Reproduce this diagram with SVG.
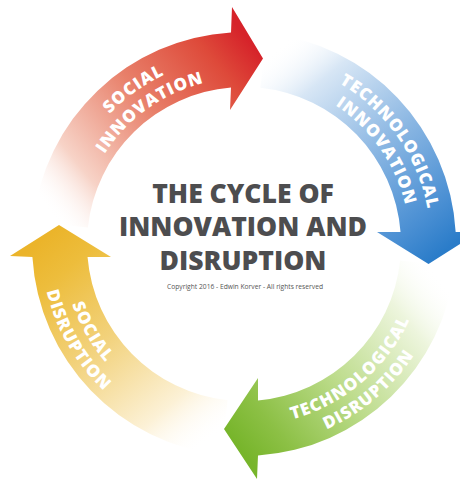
<svg xmlns="http://www.w3.org/2000/svg" width="460" height="480" viewBox="0 0 460 480">
  <style>
    .lbl { font-family: "Open Sans", "Liberation Sans", sans-serif; font-weight: 800; font-size: 17px; fill: #ffffff; letter-spacing: 1px; }
    .title { font-family: "Open Sans", "Liberation Sans", sans-serif; font-weight: 800; font-size: 26.5px; fill: #4d4d4f; text-anchor: middle; }
    .copy { font-family: "Open Sans", "Liberation Sans", sans-serif; font-size: 7px; fill: #555555; text-anchor: middle; }
  </style>
  <defs>
    <linearGradient id="gRed" gradientUnits="userSpaceOnUse" x1="60" y1="225" x2="263" y2="58">
      <stop offset="0" stop-color="#ffffff" stop-opacity="0"/>
      <stop offset="0.2" stop-color="#f7d3c7"/>
      <stop offset="0.55" stop-color="#e8806a"/>
      <stop offset="0.85" stop-color="#de4a3a"/>
      <stop offset="1" stop-color="#d6232a"/>
    </linearGradient>
    <linearGradient id="gBlue" gradientUnits="userSpaceOnUse" x1="263" y1="60" x2="429" y2="264">
      <stop offset="0" stop-color="#ffffff" stop-opacity="0"/>
      <stop offset="0.2" stop-color="#d7e6f5"/>
      <stop offset="0.55" stop-color="#88b5e2"/>
      <stop offset="0.85" stop-color="#4a8fd3"/>
      <stop offset="1" stop-color="#2a7cc9"/>
    </linearGradient>
    <linearGradient id="gGreen" gradientUnits="userSpaceOnUse" x1="428" y1="263" x2="224" y2="429">
      <stop offset="0" stop-color="#ffffff" stop-opacity="0"/>
      <stop offset="0.2" stop-color="#edf5dd"/>
      <stop offset="0.55" stop-color="#bddc8c"/>
      <stop offset="0.85" stop-color="#8cc045"/>
      <stop offset="1" stop-color="#77b52b"/>
    </linearGradient>
    <linearGradient id="gYellow" gradientUnits="userSpaceOnUse" x1="225" y1="428" x2="59" y2="225">
      <stop offset="0" stop-color="#ffffff" stop-opacity="0"/>
      <stop offset="0.2" stop-color="#fcf1d6"/>
      <stop offset="0.55" stop-color="#f2d27c"/>
      <stop offset="0.85" stop-color="#edbd3c"/>
      <stop offset="1" stop-color="#ebb42a"/>
    </linearGradient>
    <path id="pRedO" d="M 57.86 261.92 A 187 187 0 0 1 321.55 73.84"/>
    <path id="pRedI" d="M 78.76 259.91 A 166 166 0 0 1 312.84 92.95"/>
    <path id="pBlueO" d="M 227.70 57.71 A 187 187 0 0 1 413.48 323.03"/>
    <path id="pBlueI" d="M 229.53 78.63 A 166 166 0 0 1 394.45 314.15"/>
    <path id="pGreenI" d="M 183.25 415.56 A 182 182 0 0 0 422.95 210.83"/>
    <path id="pGreenO" d="M 176.24 435.36 A 203 203 0 0 0 443.60 207.01"/>
    <path id="pYelI" d="M 86.38 153 A 182 182 0 0 0 244 426"/>
    <path id="pYelO" d="M 68.20 142.5 A 203 203 0 0 0 244 447"/>
  </defs>

  <rect width="460" height="480" fill="#ffffff"/>

  <g id="social-innovation">
    <path fill="url(#gRed)" d="M 33.16 221.84 A 212 212 0 0 1 231 32.4 L 232 7 L 263 58.5 L 230 110 L 231 87.54 A 157 157 0 0 0 87.86 227.59 Z"/>
    <text class="lbl"><textPath href="#pRedO" startOffset="50%" text-anchor="middle">SOCIAL</textPath></text>
    <text class="lbl"><textPath href="#pRedI" startOffset="50%" text-anchor="middle">INNOVATION</textPath></text>
  </g>

  <g id="technological-innovation">
    <path fill="url(#gBlue)" d="M 266.16 33.16 A 212 212 0 0 1 455.66 232 L 479 232 L 428.5 264 L 377 232 L 400.54 232 A 157 157 0 0 0 260.41 87.86 Z"/>
    <text class="lbl"><textPath href="#pBlueO" startOffset="50%" text-anchor="middle">TECHNOLOGICAL</textPath></text>
    <text class="lbl"><textPath href="#pBlueI" startOffset="50%" text-anchor="middle">INNOVATION</textPath></text>
  </g>

  <g id="technological-disruption">
    <path fill="url(#gGreen)" d="M 454.84 266.16 A 212 212 0 0 1 258 455.54 L 257 479 L 224 429 L 258 378 L 258 400.38 A 157 157 0 0 0 400.14 260.41 Z"/>
    <text class="lbl"><textPath href="#pGreenI" startOffset="50%" text-anchor="middle">TECHNOLOGICAL</textPath></text>
    <text class="lbl"><textPath href="#pGreenO" startOffset="50%" text-anchor="middle">DISRUPTION</textPath></text>
  </g>

  <g id="social-disruption">
    <path fill="url(#gYellow)" d="M 221.84 454.84 A 212 212 0 0 1 32.4 257 L 10 256 L 59 225 L 111 257 L 87.54 257 A 157 157 0 0 0 227.59 400.14 Z"/>
    <text class="lbl"><textPath href="#pYelI" startOffset="50%" text-anchor="middle">SOCIAL</textPath></text>
    <text class="lbl"><textPath href="#pYelO" startOffset="50%" text-anchor="middle">DISRUPTION</textPath></text>
  </g>

  <g id="title">
    <text class="title" x="243" y="202.5">THE CYCLE OF</text>
    <text class="title" x="243" y="236">INNOVATION AND</text>
    <text class="title" x="243" y="269.5">DISRUPTION</text>
    <text class="copy" x="245" y="289" textLength="156" lengthAdjust="spacingAndGlyphs">Copyright 2016 - Edwin Korver - All rights reserved</text>
  </g>

  <g id="connectors"/>
</svg>
